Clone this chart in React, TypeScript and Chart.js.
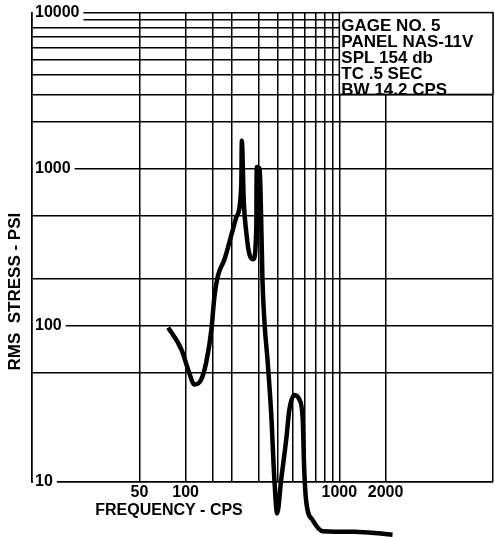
import React, { useEffect, useRef } from 'react';
import { Chart, registerables } from 'chart.js';

Chart.register(...registerables);

// Frequency (cps) and RMS stress (psi)
const freqCps = [77, 94, 104, 114, 126, 136, 147, 154, 162, 179, 203, 215, 230, 232, 239, 248, 260, 276, 288, 290, 303, 310, 316, 326, 342, 360, 378, 394, 418, 451, 473, 510, 550, 578, 590, 608, 671, 780, 1349, 2219];
const rmsStressPsi = [97, 70, 52, 42, 45, 58, 94, 154, 207, 265, 412, 501, 781, 1517, 614, 394, 285, 265, 412, 1030, 1000, 477, 197, 104, 58, 27.7, 10.3, 6.3, 10.3, 18.6, 29, 36, 33.6, 25, 12.5, 7.6, 5.7, 4.85, 4.8, 4.6];

// Axis grid and labels
const xGridValues = [10, 50, 100, 150, 200, 300, 400, 500, 600, 700, 800, 900, 1000, 2000, 10000];
const xLabelValues = [50, 100, 1000, 2000];
const yGridValues = [10, 50, 100, 200, 500, 1000, 2000, 3000, 4000, 5000, 6000, 7000, 8000, 9000, 10000];
const yLabelValues = [10, 100, 1000, 10000];

const xTitle = 'FREQUENCY - CPS';
const yTitle = 'RMS  STRESS - PSI';
const noteLines = ['GAGE NO. 5', 'PANEL NAS-11V', 'SPL 154 db', 'TC .5 SEC', 'BW 14.2 CPS'];
const noteBoxX = [1000, 10000];
const noteBoxY = [3000, 10000];

const FONT = 'Liberation Sans';

export default function App() {
  const ref = useRef<HTMLCanvasElement>(null);

  useEffect(() => {
    const canvas = ref.current!;
    const notePlugin = {
      id: 'notePlugin',
      beforeDatasetsDraw(chart: any) {
        const { ctx, scales } = chart;
        const l = scales.x.getPixelForValue(noteBoxX[0]);
        const r = scales.x.getPixelForValue(noteBoxX[1]);
        const t = scales.y.getPixelForValue(noteBoxY[1]);
        const b = scales.y.getPixelForValue(noteBoxY[0]);
        ctx.save();
        ctx.fillStyle = '#fff';
        ctx.fillRect(l, t, r - l, b - t);
        ctx.strokeStyle = '#000';
        ctx.lineWidth = 1.5;
        ctx.strokeRect(l, t, r - l, b - t);
        ctx.fillStyle = '#000';
        ctx.font = `bold 17px "${FONT}"`;
        ctx.textAlign = 'left';
        ctx.textBaseline = 'alphabetic';
        noteLines.forEach((s, i) => {
          ctx.fillText(s, l + 2, t + 18 + i * 16.2);
        });
        ctx.restore();
      },
      afterDraw(chart: any) {
        const { ctx, chartArea } = chart;
        ctx.save();
        ctx.fillStyle = '#000';
        ctx.textAlign = 'center';
        ctx.textBaseline = 'middle';
        ctx.font = `bold 16px "${FONT}"`;
        ctx.fillText(xTitle, chartArea.left + 137, chartArea.bottom + 29);
        ctx.translate(chartArea.left - 17, chartArea.top + 279);
        ctx.rotate(-Math.PI / 2);
        ctx.font = `bold 17px "${FONT}"`;
        ctx.fillText(yTitle, 0, 0);
        ctx.restore();
      },
    };

    const tickFont = { family: FONT, size: 16, weight: 'bold' as const };

    const chart = new Chart(canvas, {
      type: 'line',
      data: {
        datasets: [
          {
            data: freqCps.map((f, i) => ({ x: f, y: rmsStressPsi[i] })),
            borderColor: '#000',
            borderWidth: 4.5,
            pointRadius: 0,
            fill: false,
            cubicInterpolationMode: 'monotone',
            clip: false as any,
          },
        ],
      },
      options: {
        animation: false,
        responsive: false,
        layout: { padding: { left: 32, top: 12, right: 2, bottom: 0 } },
        plugins: { legend: { display: false }, tooltip: { enabled: false } },
        scales: {
          x: {
            type: 'logarithmic',
            min: 10,
            max: 10000,
            afterBuildTicks: (s: any) => {
              s.ticks = xGridValues.map((value) => ({ value }));
            },
            afterFit: (s: any) => {
              s.height = 55;
            },
            ticks: {
              autoSkip: false,
              maxRotation: 0,
              minRotation: 0,
              padding: 1,
              color: '#000',
              font: tickFont,
              callback: (v: any) => (xLabelValues.includes(Number(v)) ? String(v) : ''),
            },
            grid: { color: '#000', lineWidth: 1.5, drawTicks: false },
            border: { color: '#000', width: 1.5 },
          },
          y: {
            type: 'logarithmic',
            min: 10,
            max: 10000,
            afterBuildTicks: (s: any) => {
              s.ticks = yGridValues.map((value) => ({ value }));
            },
            afterFit: (s: any) => {
              s.width = 0;
            },
            ticks: {
              mirror: true,
              padding: 3,
              z: 1,
              color: '#000',
              font: tickFont,
              callback: (v: any) => (yLabelValues.includes(Number(v)) ? String(v) : ''),
              showLabelBackdrop: (c: any) => yLabelValues.includes(c.tick?.value),
              backdropColor: '#fff',
              backdropPadding: { left: 2, right: 4, top: 0, bottom: 0 },
            } as any,
            grid: { color: '#000', lineWidth: 1.5, drawTicks: false },
            border: { color: '#000', width: 1.5 },
          },
        },
      },
      plugins: [notePlugin],
    });

    return () => chart.destroy();
  }, []);

  return (
    <div style={{ position: 'absolute', left: 0, top: 0, width: 495, height: 537, background: '#fff' }}>
      <canvas ref={ref} width={495} height={537} />
    </div>
  );
}
